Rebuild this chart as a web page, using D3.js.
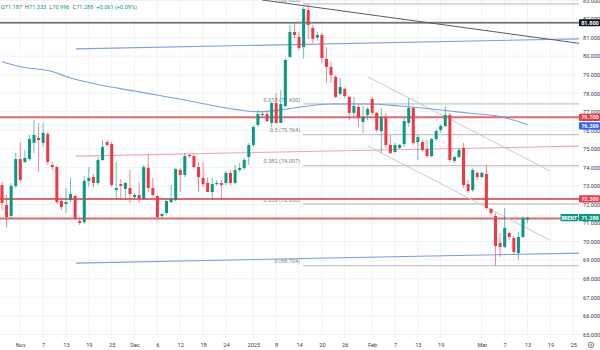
<!DOCTYPE html>
<html><head><meta charset="utf-8">
<script src="https://cdn.jsdelivr.net/npm/d3@7"></script>
<style>
body{margin:0;background:#fff;}
svg{display:block;font-family:Roboto,"Liberation Sans",sans-serif;}
</style>
</head><body>
<svg id="chart" width="600" height="350"></svg>
<script>
// ---------------- data ----------------
const opens = [73.05,71.97,71.38,73.00,74.45,74.29,74.45,75.32,75.59,75.32,
75.80,74.13,74.02,72.19,72.03,72.24,72.46,71.11,71.05,73.27,
73.48,73.16,74.40,75.37,75.26,72.78,73.10,72.84,72.89,72.40,
72.51,72.30,73.97,72.89,72.46,71.38,71.54,72.13,72.24,73.86,
73.59,74.67,74.61,74.02,73.43,73.16,72.67,73.10,73.16,73.16,
73.70,73.16,73.86,73.97,74.56,75.21,76.29,76.83,76.88,76.40,
77.47,76.40,77.31,79.96,81.30,81.03,80.49,82.49,81.52,81.00,
81.14,79.85,79.42,78.88,77.96,78.23,77.80,76.94,77.26,76.45,
76.83,77.69,76.94,75.96,76.72,75.21,74.83,75.05,75.26,76.40,
77.20,75.37,75.37,74.99,74.61,75.53,76.02,76.23,76.83,74.35,
74.56,75.05,73.10,72.78,73.70,73.48,73.65,71.76,71.38,69.92,
69.71,70.46,70.19,69.38,70.25,71.187];
const highs = [73.21,72.51,73.16,74.78,75.37,74.94,75.75,76.56,76.40,76.40,
75.91,74.29,74.07,72.30,72.89,73.43,72.51,71.27,73.54,74.02,
73.65,74.56,75.48,75.48,75.37,74.29,73.37,73.21,73.86,72.62,
73.21,74.13,74.67,73.43,72.51,71.54,72.24,73.05,73.97,73.97,
74.78,74.72,74.67,74.29,74.29,73.48,73.43,73.32,73.32,73.81,
73.86,74.13,74.24,74.51,75.32,76.29,77.10,76.99,76.99,77.53,
78.01,78.18,79.90,81.68,81.79,81.30,82.65,82.82,81.68,81.30,
81.25,80.49,79.69,78.98,78.82,78.28,77.85,77.80,77.37,77.31,
77.26,77.80,76.99,77.20,76.94,75.75,75.32,75.26,76.66,77.74,
77.26,75.75,75.48,75.48,75.59,76.07,76.34,77.31,76.94,74.61,
75.05,75.32,73.32,73.97,73.75,73.75,74.13,71.81,71.54,70.46,
71.81,70.52,70.30,70.52,71.38,71.333];
const lows = [71.70,70.73,71.22,72.89,73.21,74.24,74.35,74.78,73.75,75.10,
74.13,73.86,72.03,71.70,71.54,72.13,71.16,70.89,70.95,72.94,
72.94,73.05,74.35,75.10,72.94,72.24,72.24,72.24,72.08,72.30,
72.08,72.24,72.67,72.46,71.27,71.27,71.43,72.08,72.19,72.67,
73.48,74.51,73.97,72.67,72.94,72.67,72.24,73.00,72.24,73.05,
73.05,73.10,73.75,73.86,74.13,75.10,76.18,76.72,76.45,76.18,
76.34,76.40,77.26,79.90,80.98,80.33,79.85,80.93,80.71,80.82,
79.63,78.55,78.55,77.74,77.91,77.74,76.56,76.72,76.18,75.86,
76.56,76.83,75.91,74.78,75.05,74.72,74.78,74.99,75.10,76.18,
75.21,74.40,74.83,74.51,74.56,75.42,75.86,76.18,74.29,74.24,
74.51,72.89,72.62,72.67,73.32,73.43,71.70,71.43,68.704,69.17,
69.65,70.08,69.28,69.01,70.19,70.996];
const closes = [72.08,71.32,73.00,74.45,73.32,74.51,75.53,75.75,75.48,75.86,
74.29,74.02,72.13,71.86,72.13,72.56,71.27,71.00,73.27,73.43,
73.16,74.40,75.10,75.21,73.05,72.89,73.00,73.16,72.56,72.51,
72.30,74.02,72.89,72.51,71.32,71.49,72.19,72.30,73.91,73.59,
74.61,74.61,74.02,73.48,73.10,72.67,73.10,73.16,73.05,73.70,
73.16,73.86,73.97,74.40,75.21,76.18,76.88,76.88,76.50,77.47,
76.40,77.42,79.79,81.30,81.14,80.44,82.54,81.68,80.93,81.14,
79.90,79.42,78.98,77.80,78.34,77.85,76.94,77.31,76.66,76.72,
77.15,76.94,76.02,76.72,75.21,74.78,75.21,75.21,76.50,77.20,
75.32,75.64,74.94,74.61,75.53,75.96,76.23,76.83,74.40,74.56,
74.94,73.05,72.73,73.86,73.48,73.70,71.81,71.54,69.76,69.71,
70.73,70.25,69.44,70.25,71.27,71.288];

// moving average samples (bar index, value)
const maBars   = [0,4,11,14,21,29,36,43,51,56,61,65,72,80,87,94,102,109,115];
const maValues = [79.70,79.43,79.17,78.90,78.47,78.12,77.81,77.49,77.13,77.00,77.10,77.24,77.42,77.42,77.31,77.15,76.93,76.74,76.309];

// time axis
const firstBarDate = "2024-10-28";
const closedDays = ["2024-12-25","2025-01-01"];
const tickDates  = ["2024-11-01","2024-11-07","2024-11-13","2024-11-19","2024-11-25","2024-12-01","2024-12-06","2024-12-12","2024-12-18","2024-12-24","2025-01-02","2025-01-08","2025-01-14","2025-01-20","2025-01-26","2025-02-02","2025-02-07","2025-02-13","2025-02-19","2025-03-02","2025-03-07","2025-03-13","2025-03-19","2025-03-25"];
const tickLabels = ["Nov","7","13","19","25","Dec","6","12","18","24","2025","8","14","20","26","Feb","7","13","19","Mar","7","13","19","25"];

// price axis
const priceTicks = [65,66,67,68,69,70,71,72,73,74,75,76,77,78,79,80,81,82,83];

// fibonacci retracement
const fibRatios = [0,0.236,0.382,0.5,0.618,1];
const fibLow = 68.704, fibHigh = 82.82305, fibStartBar = 66;

// horizontal levels
const redLevels = [76.70,72.30,71.25];
const greyLevel = 81.80;

// trend lines [bar, price] pairs
const blueTop    = [[16.2,80.39],[126.3,80.93]];
const blueBottom = [[16.2,68.84],[126.3,69.38]];
const pinkLine   = [[16.2,74.61],[126.3,75.15]];
const darkLine   = [[56.9,83.03],[126.3,80.69]];
const chanTop    = [[80.1,78.88],[119.9,73.81]];
const chanBottom = [[80.1,75.15],[119.9,70.08]];

// legend
const legendNames  = ["O","H","L","C"];
const legendValues = ["71.187","71.333","70.996","71.288"];
const legendChange = "+0.061 (+0.09%)";
const symbolName = "BRENT";
const maLast = 76.309;

// ---------------- layout ----------------
const W = 600, H = 350, plotR = 579, plotB = 338;
const green = "#089981", red = "#f23645";
const svg = d3.select("#chart");

// trading calendar: every day except Saturday and closed days
const dates = [];
{
  let d = new Date(firstBarDate + "T12:00:00Z");
  while (dates.length < 127) {
    const s = d.toISOString().slice(0,10);
    if (d.getUTCDay() !== 6 && !closedDays.includes(s)) dates.push(s);
    d = new Date(d.getTime() + 86400000);
  }
}
const tickBars = tickDates.map(t => dates.indexOf(t));

const x = d3.scaleLinear().domain([-0.44, 126.26]).range([0, plotR]);
const y = d3.scaleLinear().domain([65, 83]).range([334.3, 0.5]);

svg.append("defs").append("clipPath").attr("id","plot")
  .append("rect").attr("x",0).attr("y",0).attr("width",plotR).attr("height",plotB);

// grid
const grid = svg.append("g").attr("clip-path","url(#plot)");
grid.selectAll(".vg").data(tickBars).join("line")
  .attr("x1",d=>x(d)).attr("x2",d=>x(d)).attr("y1",0).attr("y2",plotB)
  .attr("stroke","#f0f2f6").attr("stroke-width",1);
grid.selectAll(".hg").data(priceTicks).join("line")
  .attr("x1",0).attr("x2",plotR).attr("y1",d=>y(d)).attr("y2",d=>y(d))
  .attr("stroke","#f0f2f6").attr("stroke-width",1);

const draw = svg.append("g").attr("clip-path","url(#plot)");
const line = d3.line().x(d=>x(d[0])).y(d=>y(d[1]));

// fib levels
const fibLevels = fibRatios.map(r => ({r, v: fibLow + r*(fibHigh-fibLow)}));
draw.selectAll(".fib").data(fibLevels).join("line")
  .attr("x1", x(fibStartBar) - 0.5).attr("x2", plotR)
  .attr("y1", d=>y(d.v)).attr("y2", d=>y(d.v))
  .attr("stroke","#c4c6cc").attr("stroke-width",1.2);
draw.selectAll(".fibt").data(fibLevels).join("text")
  .attr("x", x(fibStartBar) - 3.5).attr("y", d=>y(d.v) - 2.2)
  .attr("text-anchor","end").attr("font-size",5.6).attr("fill","#80838c")
  .text(d => `${d.r} (${d.v.toFixed(3)})`);

// horizontal levels
draw.append("line").attr("x1",0).attr("x2",plotR).attr("y1",y(greyLevel)).attr("y2",y(greyLevel))
  .attr("stroke","#9a9ca3").attr("stroke-width",2);
draw.append("line").attr("x1",0).attr("x2",plotR).attr("y1",y(greyLevel)).attr("y2",y(greyLevel))
  .attr("stroke","#5d5f66").attr("stroke-width",0.8);
draw.selectAll(".red").data(redLevels).join("line")
  .attr("x1",0).attr("x2",plotR).attr("y1",d=>y(d)).attr("y2",d=>y(d))
  .attr("stroke","#e06a6e").attr("stroke-width",2);

// trend lines
draw.append("path").datum(blueTop).attr("d",line).attr("stroke","#7f9de6").attr("stroke-width",1.1).attr("fill","none");
draw.append("path").datum(blueBottom).attr("d",line).attr("stroke","#7f9de6").attr("stroke-width",1.1).attr("fill","none");
draw.append("path").datum(pinkLine).attr("d",line).attr("stroke","#f2a7a7").attr("stroke-width",1.1).attr("fill","none");
draw.append("path").datum(darkLine).attr("d",line).attr("stroke","#5a5c63").attr("stroke-width",1).attr("fill","none");
draw.append("path").datum(chanTop).attr("d",line).attr("stroke","#c9cacf").attr("stroke-width",1).attr("fill","none");
draw.append("path").datum(chanBottom).attr("d",line).attr("stroke","#c9cacf").attr("stroke-width",1).attr("fill","none");

// moving average
draw.append("path").datum(maBars.map((b,i)=>[b,maValues[i]]))
  .attr("d", d3.line().x(d=>x(d[0])).y(d=>y(d[1])).curve(d3.curveMonotoneX))
  .attr("stroke","#7f9de6").attr("stroke-width",1.1).attr("fill","none");

// candles
const bars = opens.map((o,i)=>({i,o,h:highs[i],l:lows[i],c:closes[i]}));
const cg = draw.append("g");
cg.selectAll(".wick").data(bars).join("line")
  .attr("x1",d=>x(d.i)).attr("x2",d=>x(d.i))
  .attr("y1",d=>y(d.h)).attr("y2",d=>y(d.l))
  .attr("stroke",d=>d.c>=d.o?green:red).attr("stroke-opacity",0.6).attr("stroke-width",1);
cg.selectAll(".body").data(bars).join("rect")
  .attr("x",d=>x(d.i)-1.5).attr("width",3)
  .attr("y",d=>y(Math.max(d.o,d.c)))
  .attr("height",d=>Math.max(1, Math.abs(y(d.o)-y(d.c))))
  .attr("fill",d=>d.c>=d.o?green:red);

// price axis
const yAxis = svg.append("g").attr("transform",`translate(${plotR+3},0)`)
  .call(d3.axisRight(y).tickValues(priceTicks).tickFormat(d3.format(".3f")).tickSize(0).tickPadding(1));
yAxis.select(".domain").remove();
yAxis.selectAll("text").attr("font-size",5.6).attr("fill","#3a3d45").attr("font-family","Roboto, sans-serif");

// time axis
const xAxis = svg.append("g").attr("transform",`translate(0,${plotB})`)
  .call(d3.axisBottom(x).tickValues(tickBars).tickFormat((d,i)=>tickLabels[i]).tickSize(0).tickPadding(5));
xAxis.select(".domain").remove();
xAxis.selectAll("text").attr("font-size",5.6).attr("fill","#3a3d45").attr("font-family","Roboto, sans-serif");

// price tags
function tag(value, bg, label, yOff){
  const yy = y(value) + (yOff||0);
  const g = svg.append("g");
  g.append("rect").attr("x",plotR).attr("y",yy-3.6).attr("width",W-plotR).attr("height",7.2).attr("fill",bg).attr("rx",0.8);
  g.append("text").attr("x",(plotR+W)/2+0.5).attr("y",yy+2).attr("text-anchor","middle")
    .attr("font-size",5.6).attr("font-weight","bold").attr("fill","#fff").text(label);
}
tag(greyLevel, "#131722", greyLevel.toFixed(3));
tag(redLevels[0], red, redLevels[0].toFixed(3));
tag(maLast, "#2962ff", maLast.toFixed(3), 1.2);
tag(redLevels[1], red, redLevels[1].toFixed(3));
tag(+legendValues[3], green, legendValues[3]);
{
  const yy = y(+legendValues[3]);
  svg.append("rect").attr("x",560.5).attr("y",yy-3.6).attr("width",17.5).attr("height",7.2).attr("fill",green).attr("rx",0.8);
  svg.append("text").attr("x",569.3).attr("y",yy+2).attr("text-anchor","middle")
    .attr("font-size",5).attr("font-weight","bold").attr("fill","#fff").text(symbolName);
}

// legend
const lg = svg.append("text").attr("x",1).attr("y",9).attr("font-size",5.6);
legendNames.forEach((n,i)=>{
  lg.append("tspan").attr("fill","#50535e").attr("dx", i===0?0:3).text(n);
  lg.append("tspan").attr("fill",green).text(legendValues[i]);
});
lg.append("tspan").attr("fill",green).attr("dx",3).text(legendChange);

// settings icon
svg.append("circle").attr("cx",591).attr("cy",345).attr("r",2.8).attr("fill","none").attr("stroke","#50535e").attr("stroke-width",0.7);
svg.append("circle").attr("cx",591).attr("cy",345).attr("r",1).attr("fill","none").attr("stroke","#50535e").attr("stroke-width",0.6);
</script>
</body></html>
